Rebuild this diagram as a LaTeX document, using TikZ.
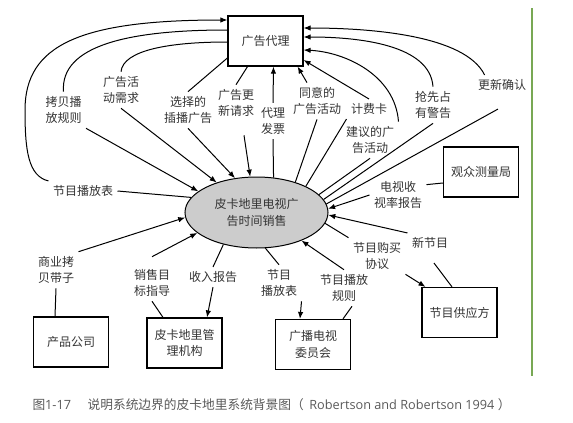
\documentclass[tikz,border=0pt]{standalone}
\usepackage{graphicx}
\usepackage{fontspec}
\setmainfont{Noto Sans CJK SC}
\newfontfamily\latinfont{Open Sans}
\usetikzlibrary{arrows.meta,shapes.geometric}

\definecolor{rand}{RGB}{120,168,84}

\begin{document}
\begin{tikzpicture}[x=1pt,y=-1pt, line width=1pt,
    every node/.style={text=black!80, font=\fontsize{12}{16.5}\selectfont},
    box/.style={draw=black, line width=1.2pt, minimum width=75pt, minimum height=50pt, align=center, inner sep=2pt},
    proc/.style={ellipse, draw=black, fill=gray!40, line width=1pt, minimum width=143pt, minimum height=71pt, align=center, inner sep=0pt},
    lbl/.style={align=center, inner sep=4pt},
    flow/.style={draw=black, -{Latex[length=7pt,width=5.5pt]}},
    link/.style={draw=black}
  ]
  \useasboundingbox (0,0) rectangle (573,423);

  % Terminatoren und Prozess
  \node[box] (agency) at (265.5,41) {广告代理};
  \node[proc] (sys) at (256.5,212.5) {皮卡地里电视广\\告时间销售};
  \node[box] (aud) at (481,172) {观众测量局};
  \node[box] (supp) at (459.5,312.5) {节目供应方};
  \node[box] (board) at (313,344.5) {广播电视\\委员会};
  \node[box] (mgmt) at (184.5,343) {皮卡地里管\\理机构};
  \node[box] (prod) at (71,342) {产品公司};

  % Datenfluss-Beschriftungen
  \node[lbl] (lSched1) at (83,191) {节目播放表};
  \node[lbl] (lCopy) at (63.5,110) {拷贝播\\放规则};
  \node[lbl] (lDemand) at (121,90) {广告活\\动需求};
  \node[lbl] (lSelect) at (188,110) {选择的\\插播广告};
  \node[lbl] (lUpd) at (236,103) {广告更\\新请求};
  \node[lbl] (lInvoice) at (273,121) {代理\\发票};
  \node[lbl] (lAgreed) at (317,101) {同意的\\广告活动};
  \node[lbl] (lCard) at (369,109) {计费卡};
  \node[lbl] (lSuggest) at (370,140) {建议的广\\告活动};
  \node[lbl] (lWarn) at (433,105) {抢先占\\有警告};
  \node[lbl] (lConfirm) at (502,85) {更新确认};
  \node[lbl] (lRating) at (398,195) {电视收\\视率报告};
  \node[lbl] (lNew) at (430,243) {新节目};
  \node[lbl] (lBuy) at (377,256) {节目购买\\协议};
  \node[lbl] (lRules) at (344,288) {节目播放\\规则};
  \node[lbl] (lSched2) at (279,283) {节目\\播放表};
  \node[lbl] (lIncome) at (213,277) {收入报告};
  \node[lbl] (lTarget) at (152,283) {销售目\\标指导};
  \node[lbl] (lTape) at (56,270) {商业拷\\贝带子};

  % Fluesse zum Werbeagenten (links)
  \draw[link] (lSched1.east) -- (sys.167);
  \draw[flow] (lSched1.north west) .. controls (28,176) and (25,150) .. (25,110)
    .. controls (25,45) and (80,20) .. ([yshift=21pt]agency.west);
  \draw[flow] (lCopy.south east) -- (sys.160);
  \draw[link] (lCopy.north) .. controls (60,45) and (130,30) .. ([yshift=11pt]agency.west);
  \draw[flow] (lDemand.south) -- (sys.143);
  \draw[link] (lDemand.north) .. controls (123,50) and (170,42) .. ([yshift=-1pt]agency.west);
  \draw[flow] (lSelect.south) -- (sys.122);
  \draw[link] (lSelect.north) -- ([yshift=-17pt]agency.west);
  \draw[flow] ([xshift=8pt,yshift=-14pt]lUpd.south) -- (sys.100);
  \draw[link] (lUpd.north) -- ([xshift=-18pt]agency.south);
  \draw[link] (sys.64) -- (lInvoice.south);
  \draw[flow] (lInvoice.north) -- ([xshift=8pt]agency.south);

  % Fluesse zum Werbeagenten (rechts)
  \draw[link] (sys.38) -- (lAgreed.south);
  \draw[flow] ([xshift=-10pt]lAgreed.north) -- ([xshift=-6pt]agency.south east);
  \draw[link] (sys.28) -- (lCard.south west);
  \draw[flow] (lCard.north) -- ([yshift=-19pt]agency.east);
  \draw[link] (sys.16) -- (lSuggest.south);
  \draw[flow] (lSuggest.north east) .. controls (395,75) and (345,52) .. ([yshift=-9pt]agency.east);
  \draw[link] (sys.11) -- (lWarn.south);
  \draw[flow] (lWarn.north) .. controls (430,45) and (360,37) .. ([yshift=4pt]agency.east);
  \draw[link] (sys.7) -- ([xshift=-4pt,yshift=-14pt]lConfirm.south);
  \draw[flow] (lConfirm.150) .. controls (465,35) and (370,28) .. ([yshift=13pt]agency.east);

  % rechte Seite
  \draw[flow] (lRating.west) -- (sys.3);
  \draw[link] (lRating.20) -- ([yshift=-11pt]aud.west);
  \draw[flow] (lNew.north west) -- (sys.-2);
  \draw[link] ([xshift=4pt,yshift=-10pt]lNew.south) -- ([xshift=-7.5pt]supp.north);
  \draw[link] (sys.-9) -- (lBuy.north west);
  \draw[flow] (lBuy.south east) -- ([xshift=-34pt]supp.north);

  % untere Seite
  \draw[flow] (lRules.north) -- (sys.-32);
  \draw[link] ([xshift=8pt]lRules.south) -- ([xshift=30pt]board.north);
  \draw[link] (sys.-76) -- (lSched2.north);
  \draw[flow] (lSched2.south east) -- ([xshift=-13pt]board.north);
  \draw[link] (sys.224) -- (lIncome.north);
  \draw[flow] (lIncome.south) -- ([xshift=22.5pt]mgmt.north);
  \draw[flow] ([yshift=8pt]lTarget.north) -- (sys.199);
  \draw[link] ([xshift=-21.5pt]mgmt.north) -- (lTarget.south);
  \draw[flow] (lTape.north east) -- (sys.184);
  \draw[link] ([xshift=-16pt]prod.north) -- (lTape.south);

  % Rand und Bildunterschrift
  \draw[rand, line width=1.5pt] (532,8) -- (532,376);
  \node[anchor=west, inner sep=0pt, text=black!65, font=\fontsize{11.6}{14}\selectfont] (caption) at (32,405)
    {\resizebox{478pt}{!}{图{\latinfont 1-17}\hspace{15pt}说明系统边界的皮卡地里系统背景图（\hspace{5pt}{\latinfont Robertson and Robertson 1994}\hspace{3pt}）}};
\end{tikzpicture}
\end{document}
